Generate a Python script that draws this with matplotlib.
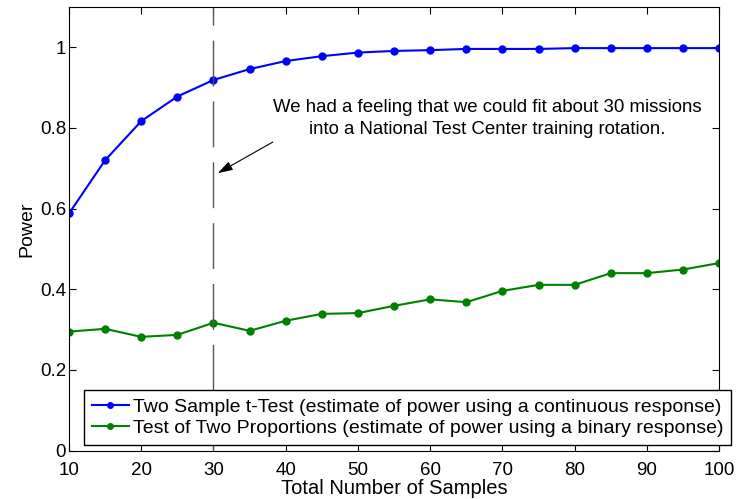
import numpy as np
import matplotlib
matplotlib.use("Agg")
import matplotlib.pyplot as plt

plt.rcParams['font.family'] = ['Liberation Sans', 'DejaVu Sans']

# sample sizes and estimated power for both tests
n_samples = [10, 15, 20, 25, 30, 35, 40, 45, 50, 55, 60, 65, 70, 75, 80, 85, 90, 95, 100]
power_ttest = [0.588, 0.720, 0.817, 0.878, 0.919, 0.946, 0.966, 0.978, 0.987, 0.991,
               0.993, 0.996, 0.996, 0.996, 0.998, 0.998, 0.998, 0.998, 0.998]
power_prop = [0.295, 0.302, 0.282, 0.287, 0.317, 0.297, 0.322, 0.339, 0.341, 0.359,
              0.375, 0.368, 0.396, 0.411, 0.411, 0.440, 0.440, 0.449, 0.465]

label_ttest = 'Two Sample t-Test (estimate of power using a continuous response)'
label_prop = 'Test of Two Proportions (estimate of power using a binary response)'
note = 'We had a feeling that we could fit about 30 missions\ninto a National Test Center training rotation.'
mission_n = 30

fig = plt.figure(figsize=(7.38, 4.99), dpi=100)
ax = fig.add_axes([0.0935, 0.097, 0.881, 0.889])

ax.plot(n_samples, power_ttest, color='blue', marker='o', markersize=5, linewidth=1.5, label=label_ttest)
ax.plot(n_samples, power_prop, color='green', marker='o', markersize=5, linewidth=1.5, label=label_prop)

# vertical reference line at 30 samples
ax.axvline(mission_n, color='#555555', linewidth=1, linestyle=(0, (33, 10.8)))

# note text and arrow pointing at the line
ax.text(67.9, 0.823, note, ha='center', va='center', fontsize=13.4, linespacing=1.35)
ax.annotate('', xy=(30.6, 0.688), xytext=(38.2, 0.765),
            arrowprops=dict(arrowstyle='-|>,head_length=0.9,head_width=0.28', color='black',
                            linewidth=0.8, shrinkA=0, shrinkB=0))

ax.set_xlim(10, 100)
ax.set_ylim(0, 1.1)
ax.set_xticks(np.arange(10, 101, 10))
ax.set_yticks([0, 0.2, 0.4, 0.6, 0.8, 1])
ax.set_yticklabels(['0', '0.2', '0.4', '0.6', '0.8', '1'])
ax.tick_params(direction='in', top=True, right=True, labelsize=13.5, length=5, pad=2)
ax.tick_params(axis='x', pad=8)
ax.set_xlabel('Total Number of Samples', fontsize=14.5, labelpad=0)
ax.set_ylabel('Power', fontsize=14, labelpad=3)

leg = ax.legend(loc='lower left', bbox_to_anchor=(0.023, 0.013), fontsize=14, fancybox=False,
                edgecolor='black', framealpha=1, borderpad=0.4, handlelength=1.9,
                handletextpad=0.2, labelspacing=0.2, borderaxespad=0, markerscale=0.8)
leg.get_frame().set_linewidth(1)

fig.savefig('out.png', dpi=100)
